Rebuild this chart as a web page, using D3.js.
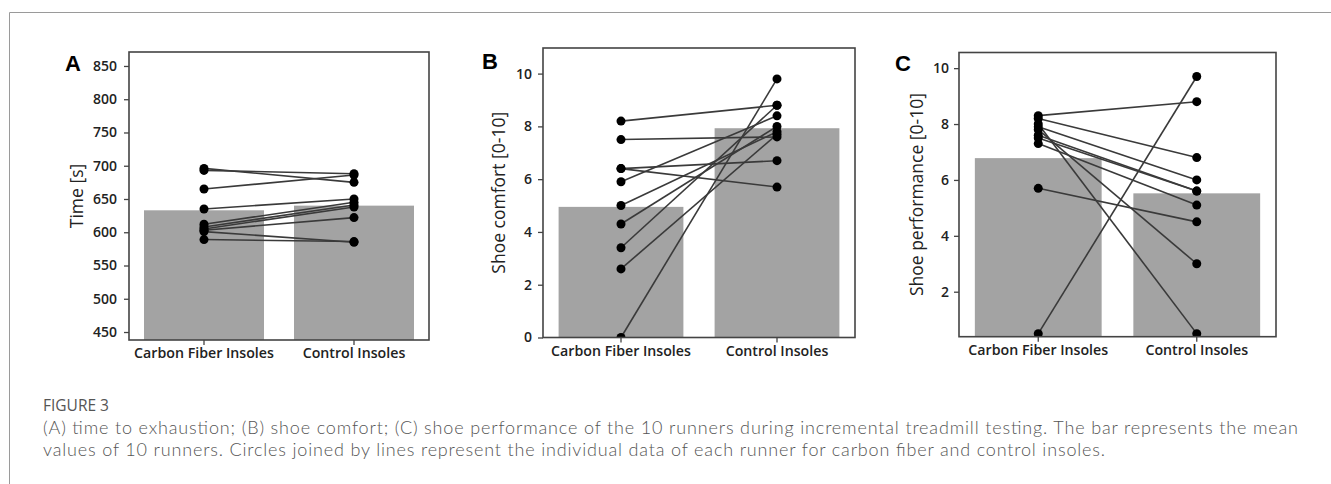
<!DOCTYPE html>
<html>
<head>
<meta charset="utf-8">
<script src="https://cdn.jsdelivr.net/npm/d3@7"></script>
<style>
  body { margin: 0; background: #fff; }
  svg { display: block; }
  .tick text { font-family: "Open Sans", sans-serif; font-weight: 600; fill: #222; }
</style>
</head>
<body>
<svg id="fig" width="1331" height="484"></svg>
<script>
const categories = ["Carbon Fiber Insoles", "Control Insoles"];

// panel A: time to exhaustion [s]
const time_carbon = [696, 693, 665, 635, 612, 608, 605, 603, 601, 589];
const time_control = [675, 688, 686, 650, 645, 641, 638, 622, 585, 586];
const time_means = [633, 640];
const time_ticks = [450, 500, 550, 600, 650, 700, 750, 800, 850];

// panel B: shoe comfort [0-10]
const comfort_carbon = [8.2, 7.5, 6.4, 6.4, 5.9, 5.0, 4.3, 3.4, 2.6, 0];
const comfort_control = [8.8, 7.6, 6.7, 5.7, 8.4, 7.8, 8.0, 8.8, 7.7, 9.8];
const comfort_means = [4.95, 7.93];
const comfort_ticks = [0, 2, 4, 6, 8, 10];

// panel C: shoe performance [0-10]
const perf_carbon = [8.3, 8.2, 8.0, 7.9, 7.8, 7.6, 7.5, 7.3, 5.7, 0.5];
const perf_control = [8.8, 6.8, 0.5, 6.0, 3.0, 5.6, 5.6, 5.1, 4.5, 9.7];
const perf_means = [6.78, 5.52];
const perf_ticks = [2, 4, 6, 8, 10];

const caption_title = "FIGURE 3";
const caption_lines = [
  "(A) time to exhaustion; (B) shoe comfort; (C) shoe performance of the 10 runners during incremental treadmill testing. The bar represents the mean",
  "values of 10 runners. Circles joined by lines represent the individual data of each runner for carbon fiber and control insoles.",
];
// measured line widths in the reference, px
const caption_widths = [1255, 1062];

const panels = [
  {
    letter: "A", title: "Time [s]",
    carbon: time_carbon, control: time_control, means: time_means, ticks: time_ticks,
    domain: [438, 871],
    left: 129, right: 429, top: 52, bottom: 340,
    letter_x: 65, letter_y: 71, title_x: 76, tick_pad: 7,
  },
  {
    letter: "B", title: "Shoe comfort [0-10]",
    carbon: comfort_carbon, control: comfort_control, means: comfort_means, ticks: comfort_ticks,
    domain: [0, 10.97],
    left: 543, right: 855, top: 48, bottom: 337.5,
    letter_x: 482, letter_y: 69, title_x: 498, tick_pad: 6,
  },
  {
    letter: "C", title: "Shoe performance [0-10]",
    carbon: perf_carbon, control: perf_control, means: perf_means, ticks: perf_ticks,
    domain: [0.39, 10.56],
    left: 959, right: 1276, top: 52.5, bottom: 336.7,
    letter_x: 895, letter_y: 71, title_x: 916, tick_pad: 5,
  },
];

const bar_color = "#a3a3a3";
const line_color = "#3a3a3a";
const frame_color = "#444";

const svg = d3.select("#fig");

// outer figure frame (top and left rule)
svg.append("line")
  .attr("x1", 9.5).attr("x2", 1331).attr("y1", 12.5).attr("y2", 12.5)
  .attr("stroke", "#9a9a9a").attr("stroke-width", 1);
svg.append("line")
  .attr("x1", 9.5).attr("x2", 9.5).attr("y1", 12.5).attr("y2", 484)
  .attr("stroke", "#9a9a9a").attr("stroke-width", 1);

panels.forEach((p, idx) => {
  const g = svg.append("g");

  const x = d3.scaleBand()
    .domain(categories)
    .range([p.left, p.right])
    .paddingInner(0.2)
    .paddingOuter(0.1);
  const y = d3.scaleLinear().domain(p.domain).range([p.bottom, p.top]);
  const cx = (c) => x(c) + x.bandwidth() / 2;

  const clip_id = "clip" + idx;
  g.append("clipPath").attr("id", clip_id)
    .append("rect")
    .attr("x", p.left).attr("y", p.top)
    .attr("width", p.right - p.left).attr("height", p.bottom - p.top);

  const plot = g.append("g").attr("clip-path", `url(#${clip_id})`);

  plot.selectAll("rect.bar")
    .data(p.means)
    .join("rect")
    .attr("class", "bar")
    .attr("x", (d, i) => x(categories[i]))
    .attr("width", x.bandwidth())
    .attr("y", (d) => y(d))
    .attr("height", (d) => p.bottom - y(d))
    .attr("fill", bar_color);

  const pairs = p.carbon.map((v, i) => [v, p.control[i]]);

  plot.selectAll("line.runner")
    .data(pairs)
    .join("line")
    .attr("class", "runner")
    .attr("x1", cx(categories[0]))
    .attr("x2", cx(categories[1]))
    .attr("y1", (d) => y(d[0]))
    .attr("y2", (d) => y(d[1]))
    .attr("stroke", line_color)
    .attr("stroke-width", 1.6);

  plot.selectAll("circle.c0")
    .data(p.carbon)
    .join("circle")
    .attr("class", "c0")
    .attr("cx", cx(categories[0]))
    .attr("cy", (d) => y(d))
    .attr("r", 4.5)
    .attr("fill", "#000");

  plot.selectAll("circle.c1")
    .data(p.control)
    .join("circle")
    .attr("class", "c1")
    .attr("cx", cx(categories[1]))
    .attr("cy", (d) => y(d))
    .attr("r", 4.5)
    .attr("fill", "#000");

  // axes
  const y_axis = g.append("g")
    .attr("transform", `translate(${p.left},0)`)
    .call(d3.axisLeft(y).tickValues(p.ticks).tickSize(5).tickPadding(p.tick_pad).tickFormat(d3.format("d")));
  y_axis.select(".domain").remove();
  y_axis.selectAll(".tick line").attr("stroke", frame_color).attr("stroke-width", 1.3);
  y_axis.selectAll(".tick text").attr("font-size", 14);

  const x_axis = g.append("g")
    .attr("transform", `translate(0,${p.bottom})`)
    .call(d3.axisBottom(x).tickSize(5).tickPadding(3));
  x_axis.select(".domain").remove();
  x_axis.selectAll(".tick line").attr("stroke", frame_color).attr("stroke-width", 1.3);
  x_axis.selectAll(".tick text").attr("font-size", 14.2);

  g.append("rect")
    .attr("x", p.left).attr("y", p.top)
    .attr("width", p.right - p.left).attr("height", p.bottom - p.top)
    .attr("fill", "none")
    .attr("stroke", frame_color)
    .attr("stroke-width", 1.6);

  g.append("text")
    .attr("transform", `translate(${p.title_x},${(p.top + p.bottom) / 2}) rotate(-90)`)
    .attr("text-anchor", "middle")
    .attr("dominant-baseline", "central")
    .attr("font-family", "'Open Sans', sans-serif")
    .attr("font-size", 17.5)
    .attr("fill", "#222")
    .text(p.title);

  g.append("text")
    .attr("x", p.letter_x).attr("y", p.letter_y)
    .attr("font-family", "'Liberation Sans', Arial, sans-serif")
    .attr("font-weight", "bold")
    .attr("font-size", 22)
    .attr("fill", "#000")
    .text(p.letter);
});

// caption
const cap = svg.append("g").attr("fill", "#555");

cap.append("text")
  .attr("x", 43).attr("y", 411)
  .attr("font-family", "'Open Sans', sans-serif")
  .attr("font-size", 15.5)
  .text(caption_title);

cap.selectAll("text.line")
  .data(caption_lines)
  .join("text")
  .attr("class", "line")
  .attr("x", 43)
  .attr("y", (d, i) => 433.5 + i * 22)
  .attr("font-family", "Lato, 'Open Sans', sans-serif")
  .attr("font-size", 18)
  .attr("font-weight", 300)
  .attr("textLength", (d, i) => caption_widths[i])
  .attr("lengthAdjust", "spacing")
  .text((d) => d);
</script>
</body>
</html>
